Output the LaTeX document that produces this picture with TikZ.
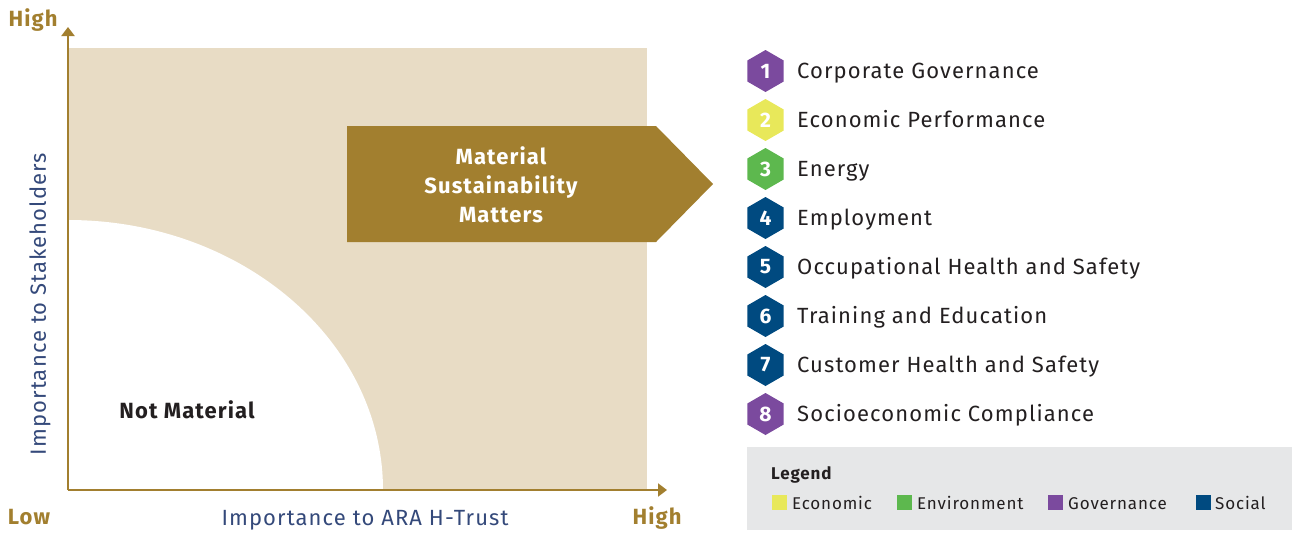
\documentclass[tikz,border=0pt]{standalone}
\usepackage{fontspec}
\setmainfont[LetterSpace=5]{Fira Sans}
\usetikzlibrary{shapes.geometric,arrows.meta}
\definecolor{gold}{HTML}{A27F2F}
\definecolor{beige}{HTML}{E8DCC5}
\definecolor{axtext}{HTML}{34497A}
\definecolor{ink}{HTML}{231F20}
\definecolor{legbg}{HTML}{E6E7E8}
\definecolor{cgov}{HTML}{7B4A9E}
\definecolor{ceco}{HTML}{E8E85A}
\definecolor{cenv}{HTML}{5DB84E}
\definecolor{csoc}{HTML}{004A80}
\tikzset{
  axis/.style={draw=gold, line width=2.2pt, -{Triangle[length=9pt,width=13pt]}},
  goldlbl/.style={text=gold, font=\bfseries\fontsize{22}{26}\selectfont, inner sep=0pt},
  axlbl/.style={text=axtext, font=\fontsize{22}{26}\selectfont, inner sep=0pt},
  hexa/.style={regular polygon, regular polygon sides=6, shape border rotate=30, minimum size=42pt, inner sep=0pt, fill=#1, text=white, font=\bfseries\fontsize{21}{24}\selectfont},
  item/.style={anchor=base west, text=ink, font=\fontsize{22}{26}\selectfont, inner sep=0pt},
  legsq/.style={fill=#1, minimum width=15pt, minimum height=15pt, inner sep=0pt},
  legtxt/.style={anchor=base west, text=ink, font=\fontsize{17}{20}\selectfont, inner sep=0pt},
}
\begin{document}
\begin{tikzpicture}[x=1pt,y=-1pt]
\useasboundingbox (0,0) rectangle (1292,533);
% background field
\fill[beige] (68,48) rectangle (647,490);
\fill[white] (68,490) -- (68,220) arc[start angle=90, end angle=0, x radius=315, y radius=-270] -- cycle;
% axes
\coordinate (o) at (68,490);
\coordinate (ytop) at (68,27);
\coordinate (xend) at (667,490);
\draw[axis] (o) -- (ytop);
\draw[axis] (o) -- (xend);
\node[goldlbl, anchor=base] (hy) at (33,26) {High};
\node[goldlbl, anchor=base] (lo) at (29,524) {Low};
\node[goldlbl, anchor=base] (hx) at (657,524) {High};
\node[axlbl, anchor=base] (xl) at (365,525) {Importance to ARA H-Trust};
\node[axlbl, rotate=90] (yl) at (40,304) {Importance to Stakeholders};
\node[text=ink, inner sep=0pt, anchor=base, font=\bfseries\fontsize{22}{26}\selectfont] (nm) at (187,418) {Not Material};
% arrow
\fill[gold] (347,126) -- (656,126) -- (713,184) -- (656,242) -- (347,242) -- cycle;
\node[text=white, align=center, font=\bfseries\fontsize{22}{29}\selectfont] (msm) at (501,185) {Material\\Sustainability\\Matters};
% list
\foreach \n/\c/\t [count=\i from 0] in {1/cgov/Corporate Governance,2/ceco/Economic Performance,3/cenv/Energy,4/csoc/Employment,5/csoc/Occupational Health and Safety,6/csoc/Training and Education,7/csoc/Customer Health and Safety,8/cgov/Socioeconomic Compliance}{
  \node[hexa=\c] (h\n) at (765.5,{71+49*\i}) {\n};
  \node[item] (t\n) at (797,{78.5+49*\i}) {\t};
}
% legend
\fill[legbg] (747,447) rectangle (1292,530);
\node[anchor=base west, text=ink, font=\bfseries\fontsize{17}{20}\selectfont, inner sep=0pt] (lg) at (771,479) {Legend};
\node[legsq=ceco] (s1) at (779.5,502) {};
\node[legtxt] (l1) at (792,509) {Economic};
\node[legsq=cenv] (s2) at (904,502) {};
\node[legtxt] (l2) at (917,509) {Environment};
\node[legsq=cgov] (s3) at (1055.5,502) {};
\node[legtxt] (l3) at (1068,509) {Governance};
\node[legsq=csoc] (s4) at (1203,502) {};
\node[legtxt] (l4) at (1215,509) {Social};
\end{tikzpicture}
\end{document}
